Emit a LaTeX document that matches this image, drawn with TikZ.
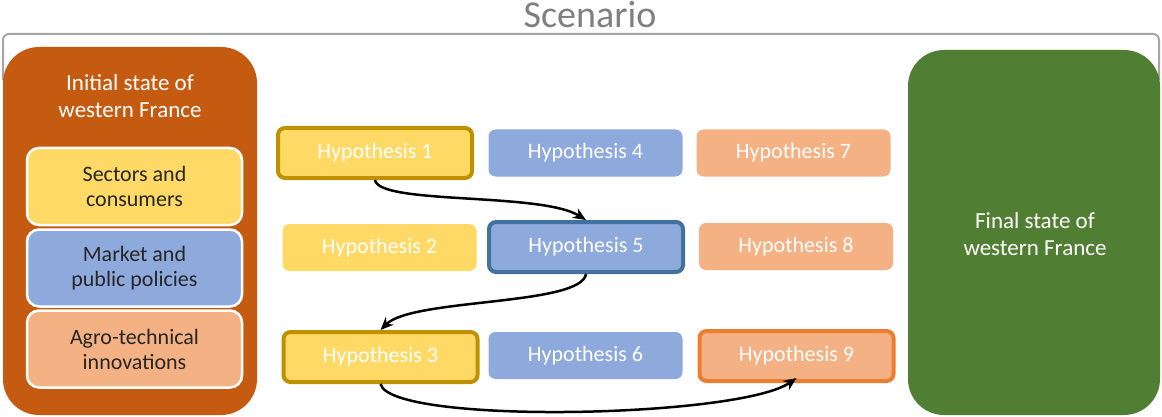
\documentclass[tikz,border=0pt]{standalone}
\usepackage{fontspec}
\setmainfont{Carlito}
\usetikzlibrary{arrows.meta}
\definecolor{initc}{HTML}{C55A11}
\definecolor{finalc}{HTML}{507E32}
\definecolor{yel}{HTML}{FFD966}
\definecolor{yelb}{HTML}{BF9000}
\definecolor{blu}{HTML}{8EA9DB}
\definecolor{blub}{HTML}{41719C}
\definecolor{pea}{HTML}{F4B183}
\definecolor{peab}{HTML}{ED7D31}
\definecolor{brk}{HTML}{A6A6A6}
\definecolor{scen}{HTML}{7F7F7F}
\definecolor{darktext}{HTML}{262626}
\begin{document}
\begin{tikzpicture}[x=1pt,y=-1pt,
  hyp/.style={rounded corners=7pt, minimum width=194pt, minimum height=47pt, inner sep=0pt,
    text=white, font=\fontsize{22}{26}\selectfont},
  hypb/.style={hyp, line width=4pt, minimum height=50pt},
  bigbox/.style={rounded corners=36pt, inner sep=0pt},
  inbox/.style={rounded corners=12pt, draw=white, line width=2.5pt, minimum width=215pt,
    minimum height=77pt, inner sep=0pt, align=center, text=darktext,
    font=\fontsize{22}{25}\selectfont},
  title/.style={align=center, text=white, inner sep=0pt, font=\fontsize{23}{27}\selectfont},
  flow/.style={line width=2.5pt, -{Stealth[length=13pt,width=11pt]}}]
\useasboundingbox (0,0) rectangle (1162,417);
% scenario bracket
\draw[brk, line width=2pt, rounded corners=6pt] (3,80) -- (3,34) -- (1159,34) -- (1159,80);
\node[anchor=base, text=scen, inner sep=0pt, font=\fontsize{38}{40}\selectfont] (scenario) at (590,28) {Scenario};
% initial state
\node[bigbox, fill=initc, minimum width=254pt, minimum height=368pt] (init) at (130,231) {};
\node[title] (initT) at (130,96) {Initial state of\\western France};
\node[inbox, fill=yel] (sect) at (134.5,186.5) {Sectors and\\consumers};
\node[inbox, fill=blu] (mark) at (134.5,268) {Market and\\public policies};
\node[inbox, fill=pea] (agro) at (134.5,349) {Agro-technical\\innovations};
% final state
\node[bigbox, fill=finalc, minimum width=252pt, minimum height=365pt] (final) at (1034,232.5) {};
\node[title] (finalT) at (1035,234) {Final state of\\western France};
% hypotheses
\node[hypb, fill=yel, draw=yelb] (h1) at (375,153) {Hypothesis 1};
\node[hyp, fill=yel] (h2) at (379.5,247.5) {Hypothesis 2};
\node[hypb, fill=yel, draw=yelb] (h3) at (380.5,357) {Hypothesis 3};
\node[hyp, fill=blu] (h4) at (585.5,153) {Hypothesis 4};
\node[hypb, fill=blu, draw=blub] (h5) at (586,247) {Hypothesis 5};
\node[hyp, fill=blu] (h6) at (585.5,355.5) {Hypothesis 6};
\node[hyp, fill=pea] (h7) at (793.5,153) {Hypothesis 7};
\node[hyp, fill=pea] (h8) at (796,246.5) {Hypothesis 8};
\node[hypb, fill=pea, draw=peab] (h9) at (796.5,356) {Hypothesis 9};
% connectors
\draw[flow] (h1.south) .. controls +(4,25) and +(-45,-28) .. (h5.north);
\draw[flow] (h5.south) .. controls +(-5,32) and +(32,-32) .. (h3.north);
\draw[flow] (h3.south) .. controls +(10,41) and +(-57,40) .. ([yshift=5pt]h9.south);
\end{tikzpicture}
\end{document}
